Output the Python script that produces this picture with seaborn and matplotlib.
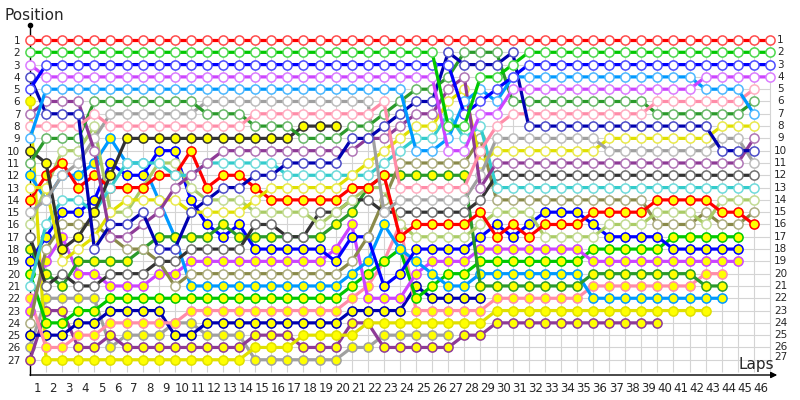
import matplotlib
matplotlib.use("Agg")
import matplotlib.pyplot as plt
import matplotlib.colors as mcolors
import seaborn as sns
import numpy as np

sns.set_theme(style="white")
plt.rcParams['font.family'] = ['DejaVu Sans']

# position of each car per lap, first value = starting grid (lap 0)
red_h = [1, 1, 1, 1, 1, 1, 1, 1, 1, 1,  1, 1, 1, 1, 1, 1, 1, 1, 1, 1,
         1, 1, 1, 1, 1, 1, 1, 1, 1, 1,  1, 1, 1, 1, 1, 1, 1, 1, 1, 1,
         1, 1, 1, 1, 1, 1, 1]
green_h = [2, 2, 2, 2, 2, 2, 2, 2, 2, 2,  2, 2, 2, 2, 2, 2, 2, 2, 2, 2,
           2, 2, 2, 2, 2, 2, 8, 8, 4, 4,  3, 2, 2, 2, 2, 2, 2, 2, 2, 2,
           2, 2, 2, 2, 2, 2, 2]
blue_h = [5, 3, 3, 3, 3, 3, 3, 3, 3, 3,  3, 3, 3, 3, 3, 3, 3, 3, 3, 3,
          3, 3, 3, 3, 3, 3, 3, 7, 6, 5,  4, 3, 3, 3, 3, 3, 3, 3, 3, 3,
          3, 3, 3, 3, 3, 3, 3]
violet_h = [3, 4, 4, 4, 4, 4, 4, 4, 4, 4,  4, 4, 4, 4, 4, 4, 4, 4, 4, 4,
            4, 4, 4, 4, 4, 4, 10, 10, 7, 7,  5, 5, 5, 5, 5, 5, 5, 5, 5, 5,
            5, 5, 4, 4, 4, 4, 4]
sky_h = [9, 5, 5, 5, 5, 5, 5, 5, 5, 5,  5, 5, 5, 5, 5, 5, 5, 5, 5, 5,
         5, 5, 5, 5, 10, 10, 9, 6, 5, 6,  4, 4, 4, 4, 4, 4, 4, 4, 4, 4,
         4, 4, 5, 5, 5, 7]
navy_h = [4, 7, 7, 7, 18, 16, 16, 15, 18, 18,  15, 14, 13, 13, 12, 12, 11, 11, 11, 11,
          9, 9, 8, 7, 6, 6, 2, 3, 3, 3,  2, 8, 8, 8, 8, 8, 8, 8, 8, 8,
          8, 8, 8, 10, 10, 10]
purple_h = [7, 6, 6, 6, 10, 17, 17, 16, 15, 13,  12, 11, 10, 10, 10, 10, 10, 10, 10, 10,
            10, 9, 9, 8, 7, 7, 5, 4, 13, 11,  11, 11, 11, 11, 11, 11, 11, 11, 11, 11,
            11, 11, 11, 11, 11, 9]
pink_h = [8, 8, 8, 8, 7, 8, 8, 8, 8, 8,  8, 8, 8, 8, 7, 7, 7, 7, 7, 7,
          7, 7, 6, 13, 13, 13, 13, 13, 10, 8,  7, 7, 7, 7, 7, 7, 7, 7, 7, 6,
          6, 6, 6, 6, 6, 5]
dgreen_h = [11, 9, 9, 9, 6, 6, 6, 6, 6, 6,  6, 7, 7, 7, 8, 8, 8, 9, 9, 9,
            8, 8, 7, 6, 5, 5, 4, 2, 2, 2,  6, 6, 6, 6, 6, 6, 6, 6, 6, 7,
            7, 7, 7, 7, 7, 6]
gray_h = [15, 14, 12, 11, 9, 7, 7, 7, 7, 7,  7, 6, 6, 6, 6, 6, 6, 6, 6, 6,
          6, 6, 15, 14, 14, 14, 14, 14, 12, 9,  9, 9, 9, 9, 9, 9, 10, 10, 10, 10,
          10, 10, 10, 9, 9, 11]
black_f = [10, 11, 18, 17, 15, 12, 9, 9, 9, 9,  9, 9, 9, 9, 9, 9, 9, 8, 8, 8]
sky_f = [12, 14, 12, 12, 11, 9, 11, 11, 14, 17,  21, 21, 21, 21, 21, 21, 21, 21, 21, 21,
         20, 19, 16, 18, 19, 20, 21, 21, 20, 20,  20, 20, 20, 20, 20, 22, 22, 22, 22, 22,
         22, 22, 22, 22]
red_f = [14, 12, 11, 13, 12, 13, 13, 13, 12, 12,  10, 13, 12, 12, 13, 14, 14, 14, 14, 14,
         13, 13, 12, 17, 16, 16, 16, 16, 15, 17,  16, 17, 16, 16, 16, 15, 15, 15, 15, 14,
         14, 14, 14, 15, 15, 16]
lolive_h = [16, 13, 10, 10, 8, 15, 15, 13, 11, 11,  13, 14, 14, 14, 15, 15, 15, 15, 16, 15,
            14, 13, 13, 16, 17, 17, 17, 17, 16, 15,  15, 15, 17, 17, 17, 17, 16, 16, 16, 15,
            15, 15, 16, 14, 14, 14]
black_h = [17, 21, 20, 21, 21, 20, 20, 20, 19, 19,  18, 18, 18, 18, 16, 16, 17, 17, 15, 15,
           14, 14, 15, 15, 15, 15, 15, 15, 14, 12,  12, 12, 12, 12, 12, 12, 12, 12, 12, 12,
           12, 12, 12, 12, 12, 12]
dgreen_f = [18, 20, 21, 19, 19, 19, 19, 18, 17, 17,  17, 17, 16, 17, 17, 17, 17, 17, 17, 16,
            15, 13, 12, 12, 12, 12, 12, 12, 21, 21,  21, 21, 21, 21, 21, 20, 20, 20, 20, 20,
            20, 20, 21, 21]
blue_f = [19, 17, 15, 15, 14, 11, 12, 12, 10, 10,  14, 16, 17, 16, 18, 18, 18, 18, 18, 19,
          17, 17, 21, 20, 18, 18, 18, 18, 17, 16,  17, 16, 15, 15, 15, 16, 17, 17, 17, 17,
          18, 18, 18, 18, 18]
green_f = [20, 24, 24, 23, 23, 22, 22, 22, 22, 22,  22, 22, 22, 22, 22, 22, 22, 22, 22, 22,
           21, 20, 19, 18, 22, 21, 20, 20, 19, 19,  19, 19, 19, 19, 19, 18, 18, 18, 18, 18,
           17, 17, 17, 17, 17]
violet_f = [23, 19, 17, 20, 20, 21, 21, 21, 20, 20,  19, 19, 19, 19, 19, 19, 19, 19, 19, 18,
            16, 22, 22, 22, 20, 19, 19, 19, 18, 18,  18, 18, 18, 18, 18, 19, 19, 19, 19, 19,
            19, 19, 19, 19, 19]
pink_f = [22, 26, 26, 25, 25, 24, 24, 24, 24, 24,  23, 23, 23, 23, 23, 23, 23, 23, 23, 23,
          22, 21, 19, 16, 23, 23, 23, 23, 23, 22,  22, 22, 22, 22, 22, 21, 21, 21, 21, 21,
          21, 21, 20, 20]
navy_f = [25, 25, 25, 24, 24, 23, 23, 23, 23, 25,  25, 24, 24, 24, 24, 24, 24, 24, 24, 24,
          23, 23, 23, 23, 21, 22, 22, 22, 22]
gray_f = [26, 22, 22, 22, 22, 26, 25, 25, 25, 24,  24, 25, 25, 25, 27, 27, 27, 27, 27, 27,
          26, 26, 25, 25, 25, 25, 25]
yellow_f = [6, 27, 27, 27, 27, 27, 27, 27, 27, 27,  27, 27, 27, 27, 26, 26, 26, 25, 25, 25,
            25, 24, 24, 24, 24, 24, 24, 24, 24, 23,  23, 23, 23, 23, 23, 23, 23, 23, 23, 23,
            23, 23, 23]
purple_f = [27, 23, 23, 26, 26, 25, 26, 26, 26, 26,  26, 26, 26, 26, 25, 25, 25, 26, 26, 26,
            24, 24, 26, 26, 26, 26, 26, 25, 25, 24,  24, 24, 24, 24, 24, 24, 24, 24, 24, 24]
olive_h = [24, 18, 16, 16, 16, 17, 18, 18, 19, 21,  20, 20, 20, 20, 20, 20, 20, 20, 20, 20,
           19, 17, 14, 11, 11, 11, 11, 11, 9, 14,  14, 14, 14, 14, 14, 14, 14, 14, 14, 16,
           16, 16, 15, 16, 16, 15]
cyan_h = [21, 16, 14, 14, 15, 13, 11, 11, 11, 12,  12, 11, 11, 11, 11, 11, 12, 12, 12, 12,
          12, 12, 11, 10, 9, 9, 7, 9, 8, 13,  13, 13, 13, 13, 13, 13, 13, 13, 13, 13,
          13, 13, 13, 13, 13, 13]
yellow_h = [13, 13, 19, 18, 17, 15, 14, 14, 14, 14,  15, 15, 15, 15, 14, 13, 13, 13, 13, 13,
            12, 11, 10, 9, 8, 8, 6, 5, 11, 10,  10, 10, 10, 10, 10, 10, 9, 9, 9, 9,
            9, 9, 9, 8, 8, 8]

positions = list(range(1, 28))
lap_labels = list(range(1, 47))

RED, GREEN, BLUE, VIOLET = '#ff0000', '#00c800', '#0000ff', '#cc44ff'
SKY, NAVY, PURPLE, PINK = '#0099ff', '#0000b0', '#8e3a96', '#ff8ca8'
DGREEN, GRAY, BLACK, YELLOW = '#2a9a2a', '#a0a0a0', '#333333', '#e0e000'
OLIVE, LOLIVE, CYAN = '#8a8a4a', '#aacc66', '#33cccc'

# (positions, colour, yellow filled marker)
cars = [
    (gray_f, GRAY, True), (purple_f, PURPLE, True), (yellow_f, YELLOW, True),
    (navy_f, NAVY, True), (pink_f, PINK, True), (green_f, GREEN, True),
    (violet_f, VIOLET, True), (sky_f, SKY, True), (blue_f, BLUE, True),
    (dgreen_f, DGREEN, True), (olive_h, OLIVE, False), (black_h, BLACK, False),
    (lolive_h, LOLIVE, False), (red_f, RED, True), (cyan_h, CYAN, False),
    (yellow_h, YELLOW, False), (black_f, BLACK, True), (gray_h, GRAY, False),
    (purple_h, PURPLE, False), (dgreen_h, DGREEN, False), (pink_h, PINK, False),
    (navy_h, NAVY, False), (sky_h, SKY, False), (violet_h, VIOLET, False),
    (blue_h, BLUE, False), (green_h, GREEN, False), (red_h, RED, False),
]


def lighten(c, amt=0.3):
    r, g, b = mcolors.to_rgb(c)
    return (r + (1 - r) * amt, g + (1 - g) * amt, b + (1 - b) * amt)


fig = plt.figure(figsize=(8, 4), dpi=100)
ax = fig.add_axes([30 / 800, 25 / 400, 745 / 800, 350 / 400])
ax.set_xlim(0, 745 / 16.087)
ax.set_ylim(28.24, -0.22)

# grid
ax.vlines(range(0, 47), 1, 28, color='#d4d4d4', lw=0.8, zorder=0)
ax.hlines(positions, 0, 46, color='#d4d4d4', lw=0.8, zorder=0)

for i, (pos, col, filled) in enumerate(cars):
    laps = np.arange(len(pos))
    sns.lineplot(x=laps, y=pos, ax=ax, color=col, linewidth=2.3,
                 marker='o', markersize=6.6,
                 markerfacecolor='#ffff00' if filled else 'white',
                 markeredgecolor=col if filled else lighten(col),
                 markeredgewidth=1.1, estimator=None, legend=False,
                 zorder=3 + i)

for line in ax.lines:
    line.set_clip_on(False)

for s in ax.spines.values():
    s.set_visible(False)
ax.set_xlabel('')
ax.set_ylabel('')

# axes with arrows
ax.plot([0, 0], [28.24, -0.2], color='black', lw=1, zorder=2, clip_on=False)
ax.plot([0], [-0.2], marker='o', ms=3, color='black', clip_on=False, zorder=2)
ax.annotate('', xy=(46.45, 28.24), xytext=(0, 28.24),
            arrowprops=dict(arrowstyle='-|>', color='black', lw=1,
                            mutation_scale=9, shrinkA=0, shrinkB=0),
            annotation_clip=False, zorder=2)

ax.set_xticks(np.array(lap_labels) - 0.565)
ax.set_xticklabels(lap_labels, fontsize=8.5)
ax.set_yticks(positions)
ax.set_yticklabels(positions, fontsize=7.5)
ax.tick_params(axis='x', length=0, pad=5)
ax.tick_params(axis='y', length=0, pad=7)
for p in positions:
    ax.text(46.65, p - (0.25 if p == 27 else 0), str(p), fontsize=7.5,
            ha='center', va='center', clip_on=False)

fig.text(4 / 800, 1 - 16 / 400, 'Position', fontsize=11, va='center', ha='left')
fig.text(738 / 800, 1 - 364 / 400, 'Laps', fontsize=11, va='center', ha='left')

fig.savefig('out.png', dpi=100)
